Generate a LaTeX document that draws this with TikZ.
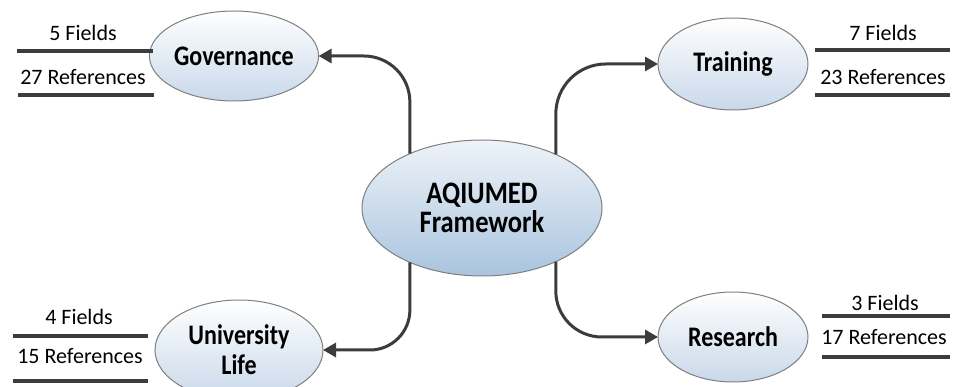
\documentclass[tikz,border=0pt]{standalone}
\usepackage{graphicx}
\usepackage{fontspec}
\setmainfont{Carlito}
\usetikzlibrary{shapes.geometric,arrows.meta}
\definecolor{edgegray}{HTML}{7F7F7F}
\definecolor{linkgray}{HTML}{3C3C3C}
\definecolor{hubtop}{HTML}{EEF3F9}
\definecolor{hubbot}{HTML}{A9C4DE}
\definecolor{topicbot}{HTML}{C8D8EA}
\newcommand{\tallbox}[1]{\scalebox{1}[1.18]{#1}}

\begin{document}
\begin{tikzpicture}[x=1pt,y=-1pt,
	hub/.style={ellipse, draw=edgegray, line width=1pt, top color=hubtop, bottom color=hubbot, minimum width=240pt, minimum height=136pt, inner sep=0pt, outer sep=0pt, align=center, font=\fontsize{26.5}{29}\selectfont\bfseries},
	topic/.style={ellipse, draw=edgegray, line width=1pt, top color=white, bottom color=topicbot, inner sep=0pt, outer sep=0pt, align=center, font=\fontsize{24}{30}\selectfont\bfseries},
	count/.style={inner sep=0pt, font=\fontsize{22}{26}\selectfont},
	rulebar/.style={draw=linkgray, line width=4pt},
	link/.style={draw=linkgray, line width=3pt, -{Triangle[length=13pt,width=14pt]}}]
	\useasboundingbox (0,0) rectangle (954,387);
	% ellipses
	\node[hub] (c) at (482,208) {\tallbox{AQIUMED}\\\tallbox{Framework}};
	\node[topic, minimum width=154pt, minimum height=90pt] (gov) at (234,56) {\tallbox{Governance}};
	\node[topic, minimum width=150pt, minimum height=92pt] (tr) at (733,64) {\tallbox{Training}};
	\node[topic, minimum width=168pt, minimum height=100pt] (uni) at (239,350) {\tallbox{University}\\\tallbox{Life}};
	\node[topic, minimum width=150pt, minimum height=90pt] (res) at (733,337) {\tallbox{Research}};
	% connectors
	\draw[link, rounded corners=46pt] (c.143) |- (gov.east);
	\draw[link, rounded corners=50pt] (c.36) |- (tr.west);
	\draw[link, rounded corners=40pt] (c.217) |- (uni.east);
	\draw[link, rounded corners=46pt] (c.324) |- (res.west);
	% counts
	\node[count] (govf) at (83,33) {5 Fields};
	\node[count] (govr) at (83,77) {27 References};
	\draw[rulebar] (17,51) -- (153,51);
	\draw[rulebar] (18,95) -- (154,95);
	\node[count] (trf) at (883,33) {7 Fields};
	\node[count] (trr) at (883,77) {23 References};
	\draw[rulebar] (815,50) -- (950,50);
	\draw[rulebar] (815,95) -- (950,95);
	\node[count] (unif) at (79,317) {4 Fields};
	\node[count] (unir) at (80,356) {15 References};
	\draw[rulebar] (13,336) -- (148,336);
	\draw[rulebar] (13,381) -- (148,381);
	\node[count] (resf) at (885,303) {3 Fields};
	\node[count] (resr) at (884,337) {17 References};
	\draw[rulebar] (822,316) -- (950,316);
	\draw[rulebar] (822,357) -- (950,357);
\end{tikzpicture}
\end{document}
